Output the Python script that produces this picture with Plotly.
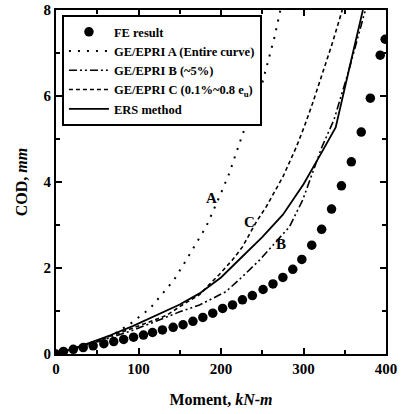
import plotly.graph_objects as go

# FE result
fe_m = [0, 9, 21, 33, 45, 58, 70, 82, 94, 106, 117, 129, 142, 154, 166, 178, 190, 202,
        214, 226, 238, 251, 263, 275, 287, 298, 310, 322, 334, 346, 358, 370, 381, 393, 399]
fe_cod = [0, 0.06, 0.11, 0.15, 0.19, 0.24, 0.29, 0.34, 0.39, 0.44, 0.50, 0.56, 0.62, 0.68,
          0.76, 0.85, 0.95, 1.06, 1.14, 1.26, 1.36, 1.50, 1.63, 1.78, 1.97, 2.20, 2.53,
          2.90, 3.37, 3.91, 4.47, 5.16, 5.95, 6.95, 7.32]

# GE/EPRI A (entire curve)
a_m = [0, 30, 45, 68, 90, 114, 129, 143, 158, 170, 182, 200, 210, 222, 234, 249, 259, 265, 272]
a_cod = [0, 0.17, 0.27, 0.44, 0.70, 1.06, 1.41, 1.72, 2.19, 2.57, 2.96, 3.74, 4.20, 4.88,
         5.53, 6.23, 6.99, 7.38, 8.0]

# GE/EPRI B (~5%)
b_m = [0, 45, 93, 125, 150, 174, 206, 226, 247, 263, 283, 299, 311, 322, 337, 355, 375]
b_cod = [0, 0.25, 0.55, 0.80, 0.98, 1.14, 1.45, 1.80, 2.19, 2.53, 2.96, 3.58, 4.20, 4.80,
         5.45, 6.60, 8.0]

# GE/EPRI C (0.1%~0.8 eu)
c_m = [0, 45, 93, 134, 154, 174, 186, 198, 214, 226, 243, 255, 275, 291, 301, 311, 323, 335, 347]
c_cod = [0, 0.27, 0.60, 0.90, 1.15, 1.38, 1.62, 1.85, 2.19, 2.49, 3.08, 3.43, 4.12, 4.80,
         5.29, 5.83, 6.53, 7.23, 8.0]

# ERS method
e_m = [0, 20, 45, 65, 93, 120, 150, 174, 200, 225, 250, 275, 300, 320, 339, 355, 372]
e_cod = [0, 0.12, 0.29, 0.43, 0.65, 0.88, 1.15, 1.41, 1.78, 2.25, 2.72, 3.24, 3.95, 4.62,
         5.27, 6.60, 8.0]

x_ticks = [0, 100, 200, 300, 400]
y_ticks = [0, 2, 4, 6, 8]

labels = [("A", 188, 3.62), ("C", 234, 3.08), ("B", 273, 2.55)]

FONT = "Liberation Serif"

fig = go.Figure()
fig.add_trace(go.Scatter(x=fe_m, y=fe_cod, mode="markers", name="FE result",
                         marker=dict(color="black", size=9.5, symbol="circle")))
fig.add_trace(go.Scatter(x=a_m, y=a_cod, mode="lines", name="GE/EPRI A (Entire curve)",
                         line=dict(color="black", width=2, dash="2px,7px")))
fig.add_trace(go.Scatter(x=b_m, y=b_cod, mode="lines", name="GE/EPRI B (~5%)",
                         line=dict(color="black", width=1.6, dash="8px,3px,2px,3px,2px,3px")))
fig.add_trace(go.Scatter(x=c_m, y=c_cod, mode="lines", name="GE/EPRI C (0.1%~0.8 e<sub>u</sub>)",
                         line=dict(color="black", width=1.6, dash="4px,3px")))
fig.add_trace(go.Scatter(x=e_m, y=e_cod, mode="lines", name="ERS method",
                         line=dict(color="black", width=1.8)))

for t, x, y in labels:
    fig.add_annotation(x=x, y=y, text=t, showarrow=False,
                       font=dict(family=FONT, size=15, color="black", weight="bold"))

axis_common = dict(showgrid=False, zeroline=False, showline=True, linecolor="black",
                   linewidth=2, mirror="allticks", ticks="inside", ticklen=6, tickwidth=1.5,
                   tickcolor="black", automargin=False,
                   tickfont=dict(family=FONT, size=15, color="black", weight="bold"))

fig.update_xaxes(range=[0, 400], tickvals=x_ticks, **axis_common,
                 minor=dict(dtick=50, ticks="inside", ticklen=4, tickwidth=1.5, tickcolor="black"),
                 title=dict(text="Moment, <i>kN-m</i>", standoff=18,
                            font=dict(family=FONT, size=16, color="black", weight="bold")))
fig.update_yaxes(range=[0, 8], tickvals=y_ticks, **axis_common,
                 minor=dict(dtick=1, ticks="inside", ticklen=4, tickwidth=1.5, tickcolor="black"),
                 title=dict(text="COD, <i>mm</i>", standoff=12,
                            font=dict(family=FONT, size=16, color="black", weight="bold")))

fig.update_layout(
    width=401, height=414,
    margin=dict(l=56, r=15, t=10, b=60),
    plot_bgcolor="white", paper_bgcolor="white",
    showlegend=True,
    legend=dict(x=0.018, y=0.985, xanchor="left", yanchor="top",
                bgcolor="white", bordercolor="black", borderwidth=2,
                font=dict(family=FONT, size=12.5, color="black", weight="bold"),
                itemwidth=40, tracegroupgap=0),
)

fig.write_html("out.html")
